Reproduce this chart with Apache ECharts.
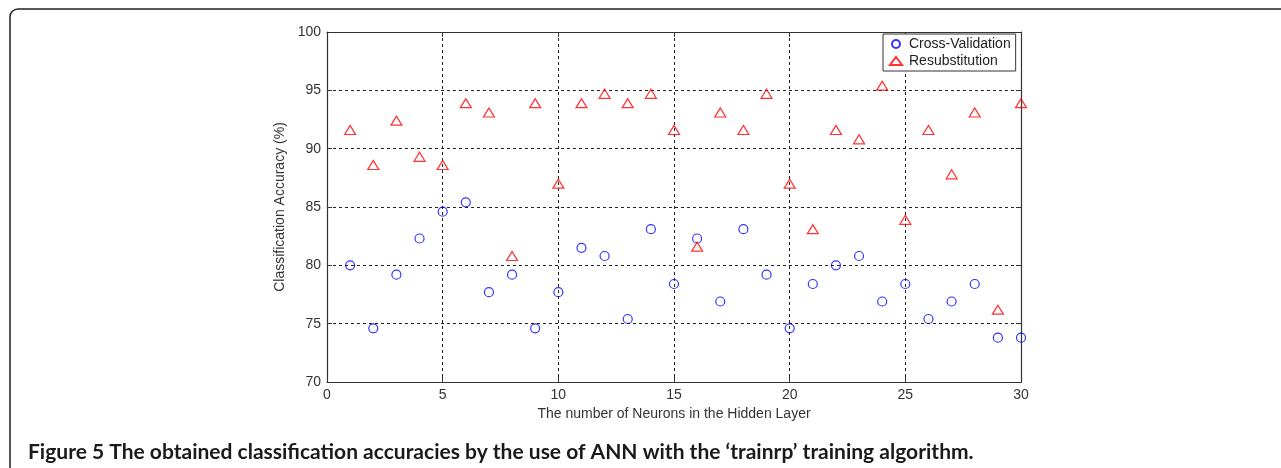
<!DOCTYPE html>
<html>
<head>
<meta charset="utf-8">
<script src="https://cdn.jsdelivr.net/npm/echarts@6/dist/echarts.min.js"></script>
<style>
  html, body { margin: 0; padding: 0; background: #fff; }
  #main { width: 1281px; height: 468px; }
</style>
</head>
<body>
<div id="main"></div>
<script>
// neurons in hidden layer
var neurons = [];
for (var n = 1; n <= 30; n++) neurons.push(n);

// Cross-Validation (%)
var crossVal = [80.0, 74.6, 79.2, 82.3, 84.6, 85.4, 77.7, 79.2, 74.6, 77.7,
                81.5, 80.8, 75.4, 83.1, 78.4, 82.3, 76.9, 83.1, 79.2, 74.6,
                78.4, 80.0, 80.8, 76.9, 78.4, 75.4, 76.9, 78.4, 73.8, 73.8];

// Resubstitution (%)
var resub = [91.6, 88.6, 92.4, 89.3, 88.6, 93.9, 93.1, 80.8, 93.9, 87.0,
             93.9, 94.7, 93.9, 94.7, 91.6, 81.6, 93.1, 91.6, 94.7, 87.0,
             83.1, 91.6, 90.8, 95.4, 83.9, 91.6, 87.8, 93.1, 76.2, 93.9];

var xTicks = [0, 5, 10, 15, 20, 25, 30];
var yTicks = [70, 75, 80, 85, 90, 95, 100];

function pairs(vals) {
  return vals.map(function (v, i) { return [neurons[i], v]; });
}

var gridLine = { show: true, lineStyle: { color: '#222', type: [3, 3], width: 1 } };
var boxLine = { show: true, onZero: false, lineStyle: { color: '#333', width: 1.2 } };
var labelStyle = { color: '#333', fontSize: 14, fontFamily: 'Liberation Sans, Arial, sans-serif' };
var tick = { show: true, inside: true, length: 5, lineStyle: { color: '#333' } };

var chart = echarts.init(document.getElementById('main'));
chart.setOption({
  animation: false,
  backgroundColor: '#fff',
  grid: { left: 327, right: 260, top: 32, bottom: 86 },
  legend: {
    orient: 'vertical',
    left: 883,
    top: 34,
    itemWidth: 12,
    itemHeight: 8,
    itemGap: 3,
    padding: [3, 5, 3, 6],
    backgroundColor: '#fff',
    borderColor: '#333',
    borderWidth: 1,
    textStyle: { color: '#222', fontSize: 14, lineHeight: 14, fontFamily: 'Liberation Sans, Arial, sans-serif', padding: [0, 0, 0, 2] },
    data: ['Cross-Validation', 'Resubstitution']
  },
  xAxis: [{
    type: 'value', min: xTicks[0], max: xTicks[xTicks.length - 1], interval: 5,
    name: 'The number of Neurons in the Hidden Layer',
    nameLocation: 'middle', nameGap: 25,
    nameTextStyle: labelStyle,
    axisLine: boxLine,
    axisTick: tick,
    axisLabel: Object.assign({ margin: 6 }, labelStyle),
    splitLine: gridLine
  }, {
    type: 'value', position: 'top', min: 0, max: 30, interval: 5,
    axisLine: boxLine, axisTick: tick,
    axisLabel: { show: false }, splitLine: { show: false }
  }],
  yAxis: [{
    type: 'value', min: yTicks[0], max: yTicks[yTicks.length - 1], interval: 5,
    name: 'Classification Accuracy (%)',
    nameLocation: 'middle', nameGap: 36,
    nameTextStyle: labelStyle,
    axisLine: boxLine,
    axisTick: tick,
    axisLabel: Object.assign({ margin: 6 }, labelStyle),
    splitLine: gridLine
  }, {
    type: 'value', position: 'right', min: 70, max: 100, interval: 5,
    axisLine: boxLine, axisTick: tick,
    axisLabel: { show: false }, splitLine: { show: false }
  }],
  series: [{
    name: 'Cross-Validation',
    type: 'scatter',
    symbol: 'circle',
    symbolSize: 9,
    itemStyle: { color: 'rgba(0,0,0,0)', borderColor: '#0000ff', borderWidth: 1.2 },
    data: pairs(crossVal),
    z: 3
  }, {
    name: 'Resubstitution',
    type: 'scatter',
    symbol: 'triangle',
    symbolSize: [11, 9],
    itemStyle: { color: 'rgba(0,0,0,0)', borderColor: '#ff0000', borderWidth: 1.2 },
    data: pairs(resub),
    z: 4
  }],
  graphic: [{
    type: 'rect',
    shape: { x: 10, y: 9, width: 1290, height: 480, r: 8 },
    style: { fill: 'none', stroke: '#222', lineWidth: 1.5 },
    silent: true
  }, {
    type: 'text',
    left: 28,
    top: 442,
    style: {
      rich: {
        b: { fontWeight: 'bold', fontSize: 21, fill: '#1a1a1a', fontFamily: 'Lato, sans-serif' }
      },
      text: '{b|Figure 5 The obtained classification accuracies by the use of ANN with the \u2018trainrp\u2019 training algorithm.}'
    }
  }]
});
</script>
</body>
</html>
